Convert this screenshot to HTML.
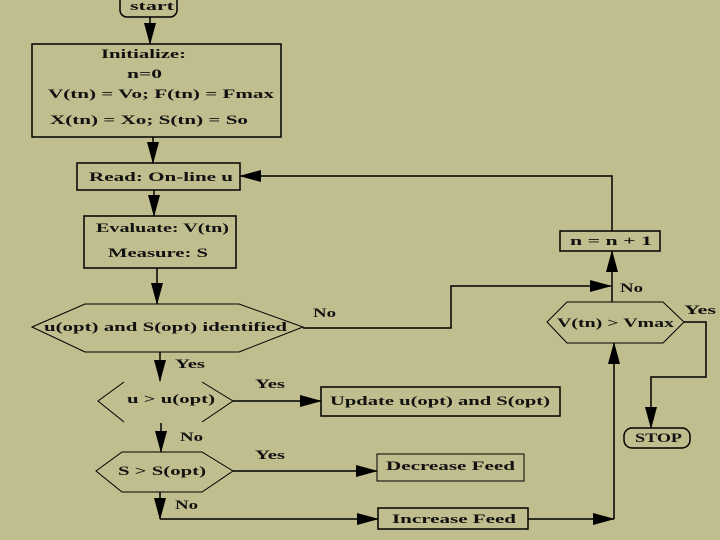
<!DOCTYPE html>
<html><head><meta charset="utf-8"><style>
html,body{margin:0;padding:0;background:#c0bd8e;}
svg{display:block}
text{font-family:"Liberation Serif",serif;font-weight:bold;font-size:13px;fill:#111;}
</style></head><body>
<svg width="720" height="540" viewBox="0 0 720 540">
<defs>
<marker id="a" markerWidth="22" markerHeight="14" refX="21" refY="7" orient="auto" markerUnits="userSpaceOnUse">
<path d="M0,1 L22,7 L0,13 Z" fill="#000"/>
</marker>
</defs>
<rect width="720" height="540" fill="#c0bd8e"/>
<g stroke="#000" stroke-width="1.5" fill="none">
<rect x="120" y="-6" width="57" height="23" rx="7"/>
<line x1="150" y1="17" x2="150" y2="44" marker-end="url(#a)"/>
<rect x="32" y="44" width="249" height="93"/>
<line x1="153" y1="137" x2="153" y2="163" marker-end="url(#a)"/>
<rect x="77" y="163" width="163" height="27"/>
<line x1="154" y1="190" x2="154" y2="216" marker-end="url(#a)"/>
<rect x="84" y="216" width="152" height="52"/>
<line x1="157" y1="268" x2="157" y2="304" marker-end="url(#a)"/>
<polygon points="32,327 85,304 239,304 303,327 239,352 85,352" stroke-width="1"/>
<polyline points="303,328 451,328 451,286 611,286" marker-end="url(#a)"/>
<line x1="612" y1="302" x2="612" y2="251" marker-end="url(#a)"/>
<rect x="560" y="231" width="100" height="20"/>
<polyline points="612,231 612,176 240,176" marker-end="url(#a)"/>
<polygon points="547,322 567,302 663,302 684,322 663,343 567,343" stroke-width="1"/>
<polyline points="684,322 706,322 706,377 651,377 651,428" marker-end="url(#a)"/>
<rect x="624" y="428" width="66" height="20" rx="8"/>
<line x1="614" y1="519" x2="614" y2="343" marker-end="url(#a)"/>
<line x1="160" y1="352" x2="160" y2="381" marker-end="url(#a)"/>
<polyline points="124,382 98,401 124,422" stroke-width="1"/>
<polyline points="202,382 233,401 202,422" stroke-width="1"/>
<line x1="233" y1="401" x2="321" y2="401" marker-end="url(#a)"/>
<rect x="321" y="387" width="239" height="29"/>
<line x1="161" y1="423" x2="161" y2="452" marker-end="url(#a)"/>
<polygon points="96,471 122,452 202,452 233,471 202,492 122,492" stroke-width="1"/>
<line x1="233" y1="471" x2="377" y2="471" marker-end="url(#a)"/>
<rect x="377" y="454" width="147" height="27" stroke-width="1"/>
<line x1="160" y1="492" x2="160" y2="519" marker-end="url(#a)"/>
<line x1="160" y1="519" x2="378" y2="519" marker-end="url(#a)"/>
<rect x="378" y="508" width="150" height="21"/>
<line x1="528" y1="519" x2="614" y2="519" marker-end="url(#a)"/>
</g>
<text x="130" y="10" textLength="44" lengthAdjust="spacingAndGlyphs">start</text>
<text x="101" y="58" textLength="85" lengthAdjust="spacingAndGlyphs">Initialize:</text>
<text x="127" y="78" textLength="35" lengthAdjust="spacingAndGlyphs">n=0</text>
<text x="48" y="98" textLength="226" lengthAdjust="spacingAndGlyphs">V(tn) = Vo;  F(tn) = Fmax</text>
<text x="50" y="124" textLength="198" lengthAdjust="spacingAndGlyphs">X(tn) = Xo;  S(tn) = So</text>
<text x="89" y="181" textLength="144" lengthAdjust="spacingAndGlyphs">Read: On-line u</text>
<text x="96" y="232" textLength="133" lengthAdjust="spacingAndGlyphs">Evaluate: V(tn)</text>
<text x="108" y="257" textLength="100" lengthAdjust="spacingAndGlyphs">Measure: S</text>
<text x="44" y="331" textLength="243" lengthAdjust="spacingAndGlyphs">u(opt) and S(opt) identified</text>
<text x="313" y="317" textLength="23" lengthAdjust="spacingAndGlyphs">No</text>
<text x="175" y="368" textLength="30" lengthAdjust="spacingAndGlyphs">Yes</text>
<text x="127" y="403" textLength="88" lengthAdjust="spacingAndGlyphs">u &gt; u(opt)</text>
<text x="255" y="388" textLength="30" lengthAdjust="spacingAndGlyphs">Yes</text>
<text x="330" y="405" textLength="220" lengthAdjust="spacingAndGlyphs">Update u(opt) and S(opt)</text>
<text x="180" y="441" textLength="23" lengthAdjust="spacingAndGlyphs">No</text>
<text x="118" y="475" textLength="88" lengthAdjust="spacingAndGlyphs">S &gt; S(opt)</text>
<text x="255" y="459" textLength="30" lengthAdjust="spacingAndGlyphs">Yes</text>
<text x="386" y="470" textLength="129" lengthAdjust="spacingAndGlyphs">Decrease Feed</text>
<text x="175" y="509" textLength="23" lengthAdjust="spacingAndGlyphs">No</text>
<text x="392" y="523" textLength="124" lengthAdjust="spacingAndGlyphs">Increase Feed</text>
<text x="570" y="245" textLength="82" lengthAdjust="spacingAndGlyphs">n = n + 1</text>
<text x="620" y="292" textLength="23" lengthAdjust="spacingAndGlyphs">No</text>
<text x="557" y="327" textLength="117" lengthAdjust="spacingAndGlyphs">V(tn) &gt; Vmax</text>
<text x="684" y="314" textLength="32" lengthAdjust="spacingAndGlyphs">Yes</text>
<text x="635" y="442" textLength="47" lengthAdjust="spacingAndGlyphs">STOP</text>
</svg>
</body></html>
